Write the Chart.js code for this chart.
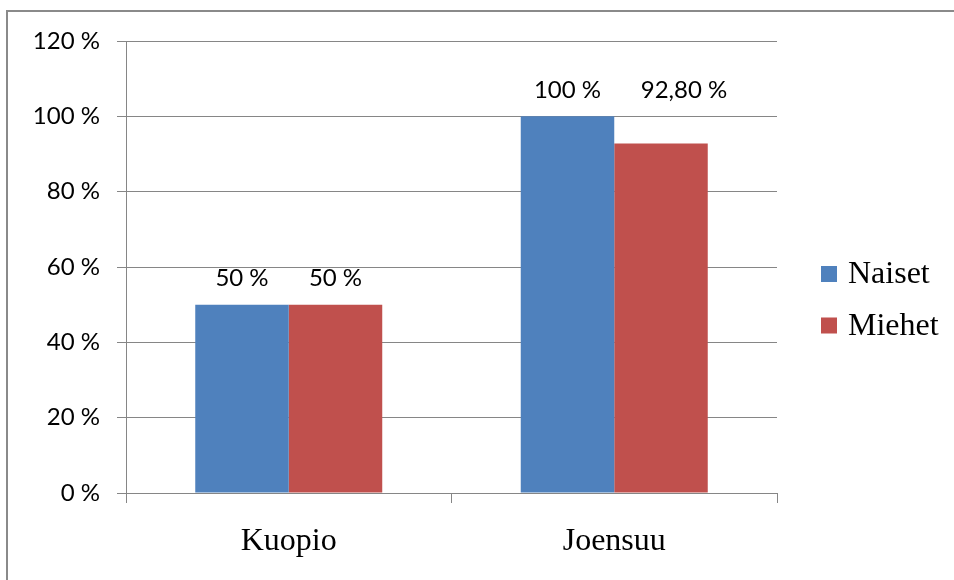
<!DOCTYPE html>
<html>
<head>
<meta charset="utf-8">
<script src="https://cdn.jsdelivr.net/npm/chart.js@4"></script>
<style>
  html, body { margin: 0; padding: 0; background: #fff; }
  #wrap { position: relative; width: 954px; height: 580px; overflow: hidden; }
  #frame { position: absolute; left: 6px; top: 10px; width: 980px; height: 600px;
           border-left: 2px solid #8a8a8a; border-top: 2px solid #8a8a8a; }
  canvas { position: absolute; left: 0; top: 0; }
</style>
</head>
<body>
<div id="wrap">
  <div id="frame"></div>
  <canvas id="c" width="954" height="580"></canvas>
</div>
<script>
const categories = ["Kuopio", "Joensuu"];
const seriesNames = ["Naiset", "Miehet"];
const naiset = [50, 100];
const miehet = [50, 92.8];
const yTicks = [0, 20, 40, 60, 80, 100, 120];
const colors = ["#4F81BD", "#C0504D"];

function fmtPct(v) {
  return Number.isInteger(v) ? v + " %" : v.toFixed(2).replace(".", ",") + " %";
}

const sansFont = "Lato, 'Open Sans', sans-serif";
const serifFont = "'Liberation Serif', 'DejaVu Serif', serif";
const gridColor = "#868686";

const valueLabels = {
  id: "valueLabels",
  afterDatasetsDraw(chart, args, opts) {
    const ctx = chart.ctx;
    const y = chart.scales.y;
    ctx.save();
    ctx.font = "24px " + sansFont;
    ctx.fillStyle = "#000";
    ctx.textAlign = "center";
    ctx.textBaseline = "middle";
    chart.data.datasets.forEach((ds, di) => {
      const meta = chart.getDatasetMeta(di);
      meta.data.forEach((bar, i) => {
        const catMax = Math.max(...chart.data.datasets.map(d => d.data[i]));
        const dx = (opts.shiftX && opts.shiftX[di] && opts.shiftX[di][i]) || 0;
        ctx.fillText(fmtPct(ds.data[i]), bar.x + dx, y.getPixelForValue(catMax) - 26);
      });
    });
    ctx.restore();
  }
};

const sideLegend = {
  id: "sideLegend",
  afterDraw(chart) {
    const ctx = chart.ctx;
    const a = chart.chartArea;
    ctx.save();
    ctx.font = "32px " + serifFont;
    ctx.textBaseline = "middle";
    ctx.textAlign = "left";
    chart.data.datasets.forEach((ds, i) => {
      const cy = (a.top + a.bottom) / 2 + 7 + i * 51.5;
      const bx = a.right + 44;
      ctx.fillStyle = ds.backgroundColor;
      ctx.fillRect(bx, cy - 8, 16, 16);
      ctx.fillStyle = "#000";
      ctx.fillText(ds.label, bx + 27, cy + 1);
    });
    ctx.restore();
  }
};

new Chart(document.getElementById("c"), {
  type: "bar",
  data: {
    labels: categories,
    datasets: [
      { label: seriesNames[0], data: naiset, backgroundColor: colors[0] },
      { label: seriesNames[1], data: miehet, backgroundColor: colors[1] }
    ]
  },
  options: {
    responsive: false,
    animation: false,
    devicePixelRatio: 1,
    layout: { padding: { left: 0, right: 177, top: 41, bottom: 0 } },
    datasets: { bar: { categoryPercentage: 0.5745, barPercentage: 1.0 } },
    plugins: {
      legend: { display: false },
      tooltip: { enabled: false },
      valueLabels: { shiftX: [[0, 0], [0, 23]] }
    },
    scales: {
      x: {
        afterFit(s) { s.height = 87; },
        grid: { display: true, drawOnChartArea: false, drawTicks: true, tickLength: 10, color: gridColor, offset: true },
        border: { display: true, color: gridColor, width: 1 },
        ticks: { font: { family: serifFont, size: 32 }, color: "#000", padding: 19 }
      },
      y: {
        min: 0, max: 120,
        afterFit(s) { s.width = 126; },
        afterBuildTicks(s) { s.ticks = yTicks.map(v => ({ value: v })); },
        grid: { color: gridColor, drawTicks: true, tickLength: 9 },
        border: { display: true, color: gridColor, width: 1 },
        ticks: { font: { family: sansFont, size: 24 }, color: "#000", padding: 17, callback: v => v + " %" }
      }
    }
  },
  plugins: [valueLabels, sideLegend]
});
</script>
</body>
</html>
